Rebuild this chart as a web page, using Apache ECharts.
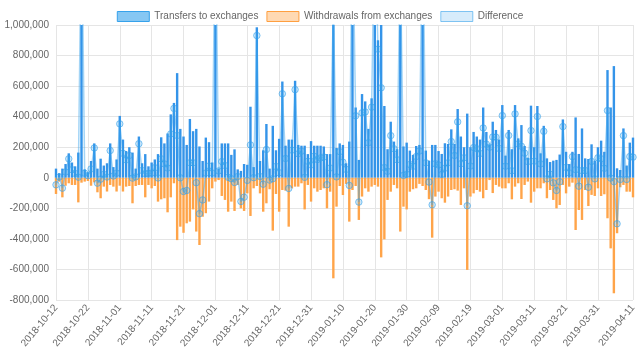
<!DOCTYPE html>
<html><head><meta charset="utf-8">
<script src="https://cdn.jsdelivr.net/npm/echarts@6/dist/echarts.min.js"></script>
<style>html,body{margin:0;padding:0;background:#fff}#c{width:640px;height:361px}</style>
</head><body><div id="c"></div>
<script>
// Categories: one per day from 2018-10-12 to 2019-04-11
const firstDay = [2018, 9, 12];
const dayCount = 182;
const dates = [];
for (let i = 0; i < dayCount; i++) {
  dates.push(new Date(Date.UTC(firstDay[0], firstDay[1], firstDay[2] + i)).toISOString().slice(0, 10));
}
const tickLabels = ['2018-10-12','2018-10-22','2018-11-01','2018-11-11','2018-11-21','2018-12-01','2018-12-11','2018-12-21','2018-12-31','2019-01-10','2019-01-20','2019-01-30','2019-02-09','2019-02-19','2019-03-01','2019-03-11','2019-03-21','2019-03-31','2019-04-11'];

const transfers = [
60000,30000,60000,90000,160000,100000,75000,165000,1800000,55000,
35000,110000,225000,60000,125000,80000,95000,225000,70000,120000,
405000,250000,175000,200000,165000,60000,270000,95000,155000,75000,
100000,120000,155000,265000,225000,290000,415000,490000,685000,320000,
270000,215000,385000,305000,320000,205000,110000,263000,233000,100000,
1800000,60000,225000,225000,225000,150000,186000,55000,45000,90000,
85000,465000,70000,985000,110000,180000,352000,60000,340000,180000,
255000,630000,210000,250000,250000,635000,215000,210000,210000,155000,
240000,210000,210000,210000,205000,155000,155000,1800000,195000,225000,
215000,95000,237000,1800000,460000,117000,548000,500000,320000,520000,
1800000,900000,1110000,470000,187000,367000,237000,187000,1800000,205000,
230000,178000,150000,208000,215000,1800000,178000,112000,215000,215000,
175000,156000,226000,221000,317000,221000,450000,270000,200000,420000,
200000,300000,270000,250000,460000,300000,215000,367000,313000,250000,
476000,145000,313000,187000,476000,258000,345000,208000,131000,472000,
200000,470000,160000,340000,127000,103000,112000,117000,152000,382000,
170000,90000,170000,395000,156000,323000,127000,123000,219000,112000,
200000,243000,170000,705000,460000,731000,62000,51000,323000,80000,
230000,263000];

const withdrawals = [
-106000,-25000,-128000,-52000,-36000,-47000,-47000,-161000,-32000,-25000,
-21000,-52000,-30000,-95000,-134000,-58000,-90000,-47000,-58000,-90000,
-52000,-90000,-58000,-54000,-167000,-54000,-47000,-47000,-128000,-47000,
-69000,-54000,-156000,-141000,-134000,-226000,-128000,-36000,-408000,-320000,
-360000,-298000,-287000,-207000,-352000,-440000,-255000,-232000,-156000,-69000,
-25000,-15000,-119000,-145000,-222000,-156000,-217000,-47000,-200000,-217000,
-102000,-250000,-69000,-54000,-102000,-222000,-167000,-75000,-346000,-106000,
-222000,-80000,-84000,-320000,-69000,-58000,-58000,-36000,-207000,-47000,
-156000,-69000,-91000,-80000,-69000,-200000,-91000,-658000,-189000,-54000,
-113000,-40000,-287000,-80000,-54000,-276000,-123000,-69000,-91000,-58000,
-47000,-58000,-521000,-403000,-145000,-91000,-47000,-69000,-352000,-189000,
-207000,-91000,-75000,-69000,-40000,-54000,-80000,-140000,-392000,-123000,
-91000,-134000,-163000,-123000,-80000,-75000,-84000,-178000,-69000,-603000,
-123000,-102000,-80000,-91000,-134000,-80000,-15000,-100000,-47000,-58000,
-69000,-69000,-36000,-141000,-58000,-36000,-139000,-47000,-25000,-163000,
-91000,-69000,-69000,-36000,-134000,-80000,-145000,-200000,-178000,-47000,
-102000,-58000,-32000,-342000,-211000,-276000,-80000,-185000,-112000,-119000,
-69000,-119000,-108000,-265000,-462000,-756000,-363000,-62000,-47000,-91000,
-91000,-128000];

// Difference = transfers to exchanges + (negative) withdrawals
const difference = transfers.map((v, i) => v + withdrawals[i]);

const yTicks = { min: -800000, max: 1000000, step: 200000 };

const chart = echarts.init(document.getElementById('c'), null, { renderer: 'canvas' });
const font = 'Liberation Sans, Arial, Helvetica, sans-serif';
const showTick = (idx) => tickLabels.indexOf(dates[idx]) !== -1;

chart.setOption({
  animation: false,
  textStyle: { fontFamily: font },
  legend: {
    top: 6, left: 'center', icon: 'rect', itemWidth: 32, itemHeight: 10, itemGap: 8,
    textStyle: { color: '#666', fontSize: 10, fontFamily: font },
    data: [
      { name: 'Transfers to exchanges', itemStyle: { color: 'rgba(54,162,235,0.6)', borderColor: 'rgb(54,162,235)', borderWidth: 1 } },
      { name: 'Withdrawals from exchanges', itemStyle: { color: 'rgba(255,159,64,0.4)', borderColor: 'rgb(255,159,64)', borderWidth: 1 } },
      { name: 'Difference', itemStyle: { color: 'rgba(54,162,235,0.2)', borderColor: 'rgba(54,162,235,0.6)', borderWidth: 1 } }
    ]
  },
  grid: { left: 56, right: 7, top: 25, bottom: 61, containLabel: false },
  xAxis: {
    type: 'category', data: dates, boundaryGap: false,
    axisLine: { show: false }, axisTick: { show: false },
    axisLabel: { interval: (i) => showTick(i), rotate: 50, color: '#666', fontSize: 10, margin: 6, fontFamily: font },
    splitLine: { show: true, interval: (i) => showTick(i), lineStyle: { color: '#e5e5e5', width: 1 } }
  },
  yAxis: {
    type: 'value', min: yTicks.min, max: yTicks.max, interval: yTicks.step,
    axisLine: { show: false }, axisTick: { show: false },
    axisLabel: { color: '#666', fontSize: 10, margin: 7, fontFamily: font, formatter: (v) => v.toLocaleString('en-US') },
    splitLine: { lineStyle: { color: '#e5e5e5', width: 1 } }
  },
  series: [
    { name: 'Transfers to exchanges', type: 'bar', data: transfers, barWidth: 2.4, barGap: '-100%',
      itemStyle: { color: '#3494e9' }, z: 2 },
    { name: 'Withdrawals from exchanges', type: 'bar', data: withdrawals, barWidth: 2.4,
      itemStyle: { color: '#ffa449' }, z: 2 },
    { name: 'Difference', type: 'line', data: difference, symbol: 'circle', symbolSize: 6.5, showAllSymbol: true,
      lineStyle: { color: 'rgba(54,162,235,0.45)', width: 1.5 },
      itemStyle: { color: 'rgba(54,162,235,0.25)', borderColor: 'rgba(54,162,235,0.6)', borderWidth: 1 }, z: 3 }
  ]
});
</script></body></html>
